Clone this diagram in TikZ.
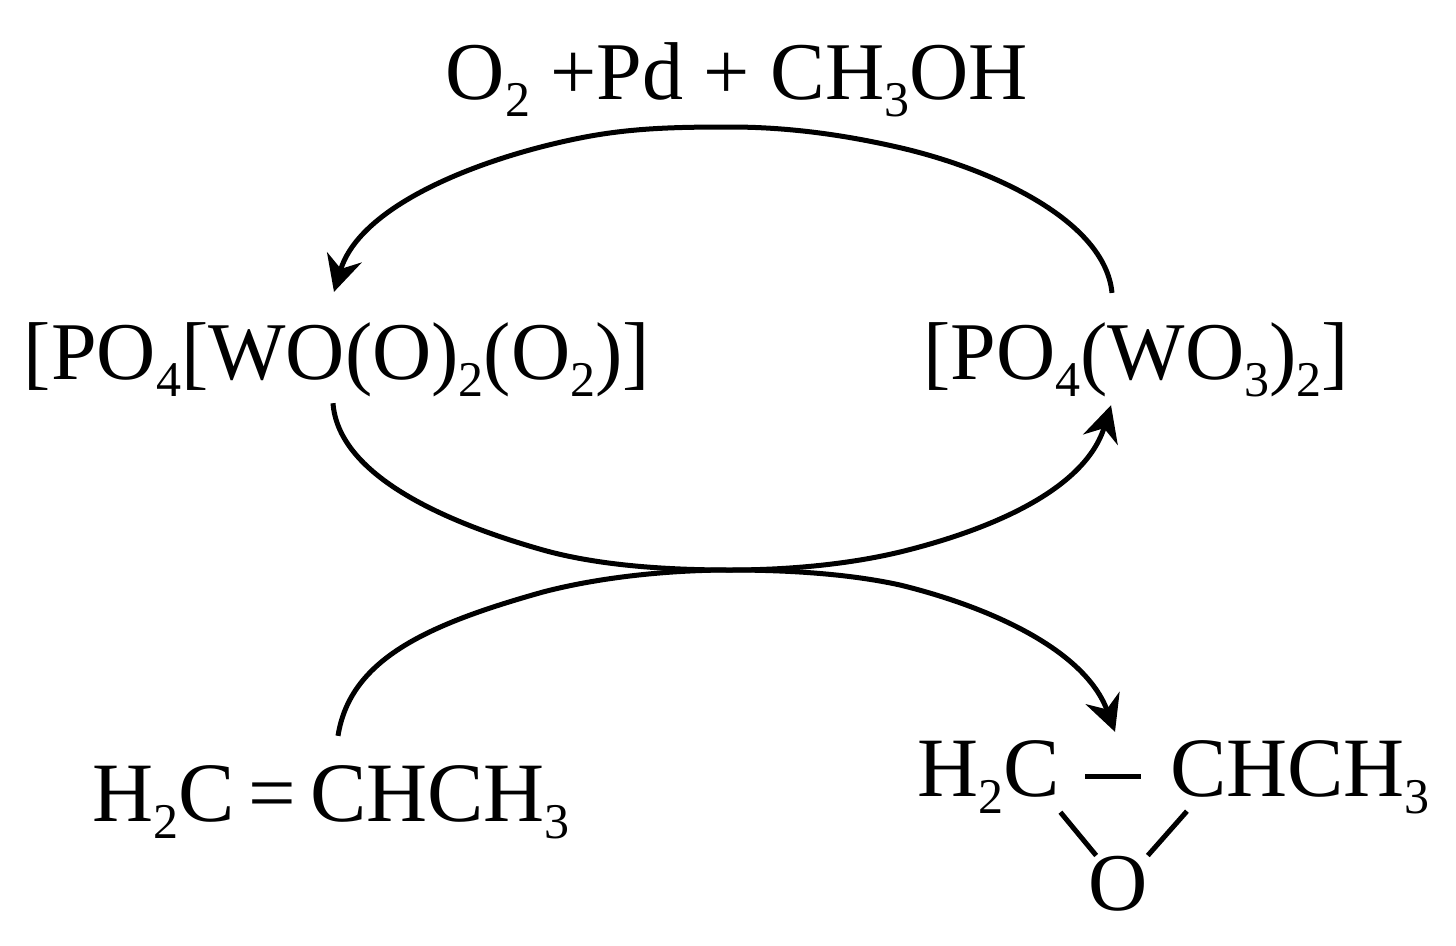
\documentclass[tikz,border=0pt]{standalone}
\usepackage{fontspec}
\setmainfont{Liberation Serif}
\usetikzlibrary{arrows.meta}
\newcommand{\lowidx}[1]{\raisebox{-0.21em}{\fontsize{50}{50}\selectfont #1}}

\begin{document}
\begin{tikzpicture}[x=1pt,y=-1pt,
            chem node/.style={inner sep=0pt,anchor=base,text depth=0pt,font=\fontsize{82}{90}\selectfont},
            wide node/.style={chem node,font=\fontsize{84.5}{90}\selectfont},
            cycle arrow/.style={line width=5pt,-{Stealth[length=36pt,width=36pt,inset=12pt]}},
            bond line/.style={line width=5pt},
            ]
            \useasboundingbox (0,0) rectangle (1456,945);

            \node[chem node] (reagent) at (737,99) {O\lowidx{2} +Pd + CH\lowidx{3}OH};
            \node[chem node] (peroxo) at (337,379) {[PO\lowidx{4}[WO(O)\lowidx{2}(O\lowidx{2})]};
            \node[chem node] (oxo) at (1136,379) {[PO\lowidx{4}(WO\lowidx{3})\lowidx{2}]};
            \node[wide node] (propene) at (331,821) {H\lowidx{2}C\,=\,CHCH\lowidx{3}};
            \node[wide node] (ch2) at (989,796) {H\lowidx{2}C};
            \node[wide node] (chch3) at (1300,796) {CHCH\lowidx{3}};
            \node[chem node] (oxy) at (1118,910) {O};

            \coordinate (top mid) at (730,127);
            \coordinate (cross mid) at (730,570);

            \draw[cycle arrow] ([xshift=-24pt,yshift=29pt]oxo.north) .. controls (1105,220) and (990,168) .. (897,147) .. controls (840,134) and (785,127) .. (top mid) .. controls (675,127) and (630,128) .. (580,138) .. controls (480,158) and (360,205) .. ([xshift=-3pt,yshift=30pt]peroxo.north);
            \draw[cycle arrow] ([xshift=-4pt,yshift=-24pt]peroxo.south) .. controls (338,470) and (430,518) .. (543,550) .. controls (600,566) and (670,570) .. (cross mid) .. controls (790,570) and (850,564) .. (900,552) .. controls (990,530) and (1085,490) .. ([xshift=-25pt,yshift=-26pt]oxo.south);
            \draw[cycle arrow] ([xshift=7pt,yshift=29pt]propene.north) .. controls (350,660) and (425,625) .. (543,592) .. controls (600,577) and (670,570) .. (cross mid) .. controls (790,570) and (850,574) .. (900,585) .. controls (990,607) and (1085,650) .. ([yshift=8pt,xshift=-3pt]ch2.north -| oxy.north);

            \draw[bond line] ([xshift=25pt,yshift=-8pt]ch2.east) -- ([xshift=-29pt,yshift=-8pt]chch3.west);
            \draw[bond line] ([yshift=-16pt]ch2.south east) -- ([xshift=8pt]oxy.north west);
            \draw[bond line] ([xshift=17pt,yshift=-15pt]chch3.south west) -- (oxy.north east);
        \end{tikzpicture}
\end{document}
